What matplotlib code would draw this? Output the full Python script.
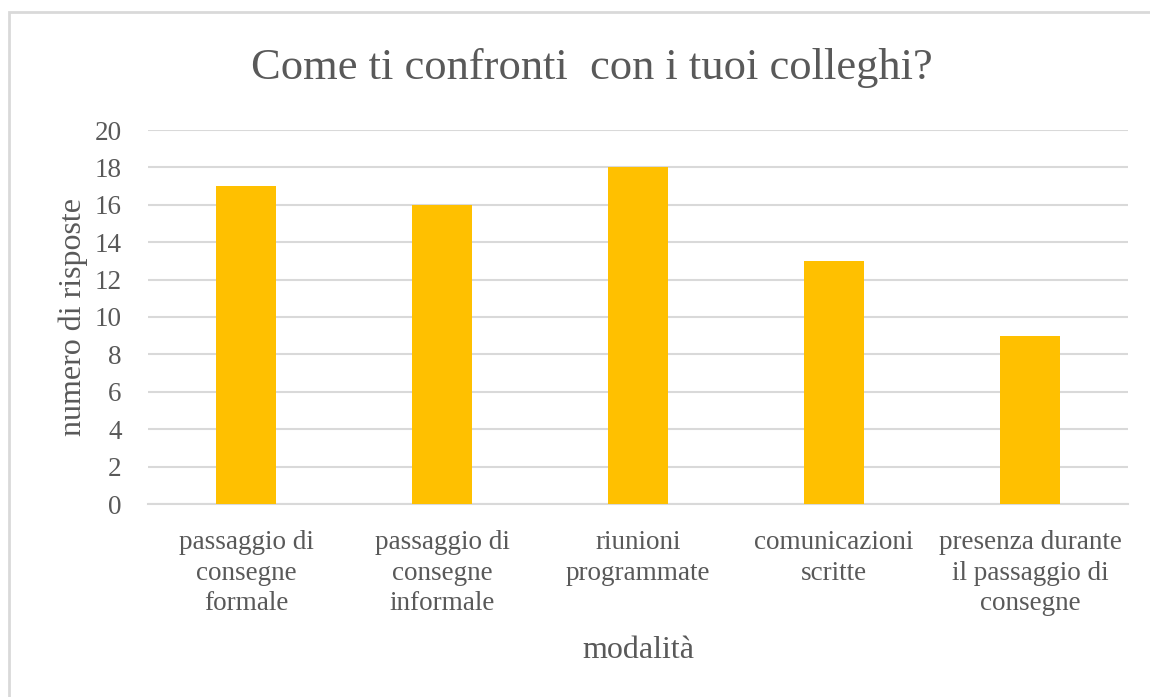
import matplotlib.pyplot as plt
from matplotlib.patches import Rectangle

categorie = ["passaggio di\nconsegne\nformale",
             "passaggio di\nconsegne\ninformale",
             "riunioni\nprogrammate",
             "comunicazioni\nscritte",
             "presenza durante\nil passaggio di\nconsegne"]
risposte = [17, 16, 18, 13, 9]

grigio = "#595959"
plt.rcParams['font.family'] = ['Liberation Serif', 'DejaVu Serif']

fig = plt.figure(figsize=(11.5, 6.97), dpi=100)
ax = fig.add_axes([148/1150, 1 - 504/697, (1128-148)/1150, (504-130)/697])

# cornice del grafico
fig.patches.append(Rectangle((9/1150, -0.1), 1.2, 1 - 12/697 + 0.1, transform=fig.transFigure,
                             fill=False, edgecolor="#d9d9d9", linewidth=2))

x = range(len(categorie))
ax.bar(x, risposte, width=0.31, color="#ffc000", zorder=3)

ax.set_xlim(-0.5, len(categorie) - 0.5)
ax.set_ylim(0, 20)
ax.set_yticks(range(0, 21, 2))
ax.set_xticks(list(x))
ax.set_xticklabels(categorie, fontsize=19.5, color=grigio, linespacing=1.29)
ax.tick_params(axis='y', labelsize=19.5, labelcolor=grigio, length=0, pad=19)
ax.tick_params(axis='x', length=0, pad=19)
ax.grid(axis='y', color="#d9d9d9", linewidth=1.5, zorder=0)
for s in ["top", "right", "left"]:
    ax.spines[s].set_visible(False)
ax.spines["bottom"].set_color("#d9d9d9")
ax.spines["bottom"].set_linewidth(1.5)

ax.set_xlabel("modalità", fontsize=23, color=grigio, labelpad=14)
ax.set_ylabel("numero di risposte", fontsize=23, color=grigio, labelpad=5)
fig.text(592/1150, 1 - 68/697, "Come ti confronti  con i tuoi colleghi?", fontsize=32,
         color=grigio, ha='center', va='center')

fig.savefig("out.png", dpi=100)
